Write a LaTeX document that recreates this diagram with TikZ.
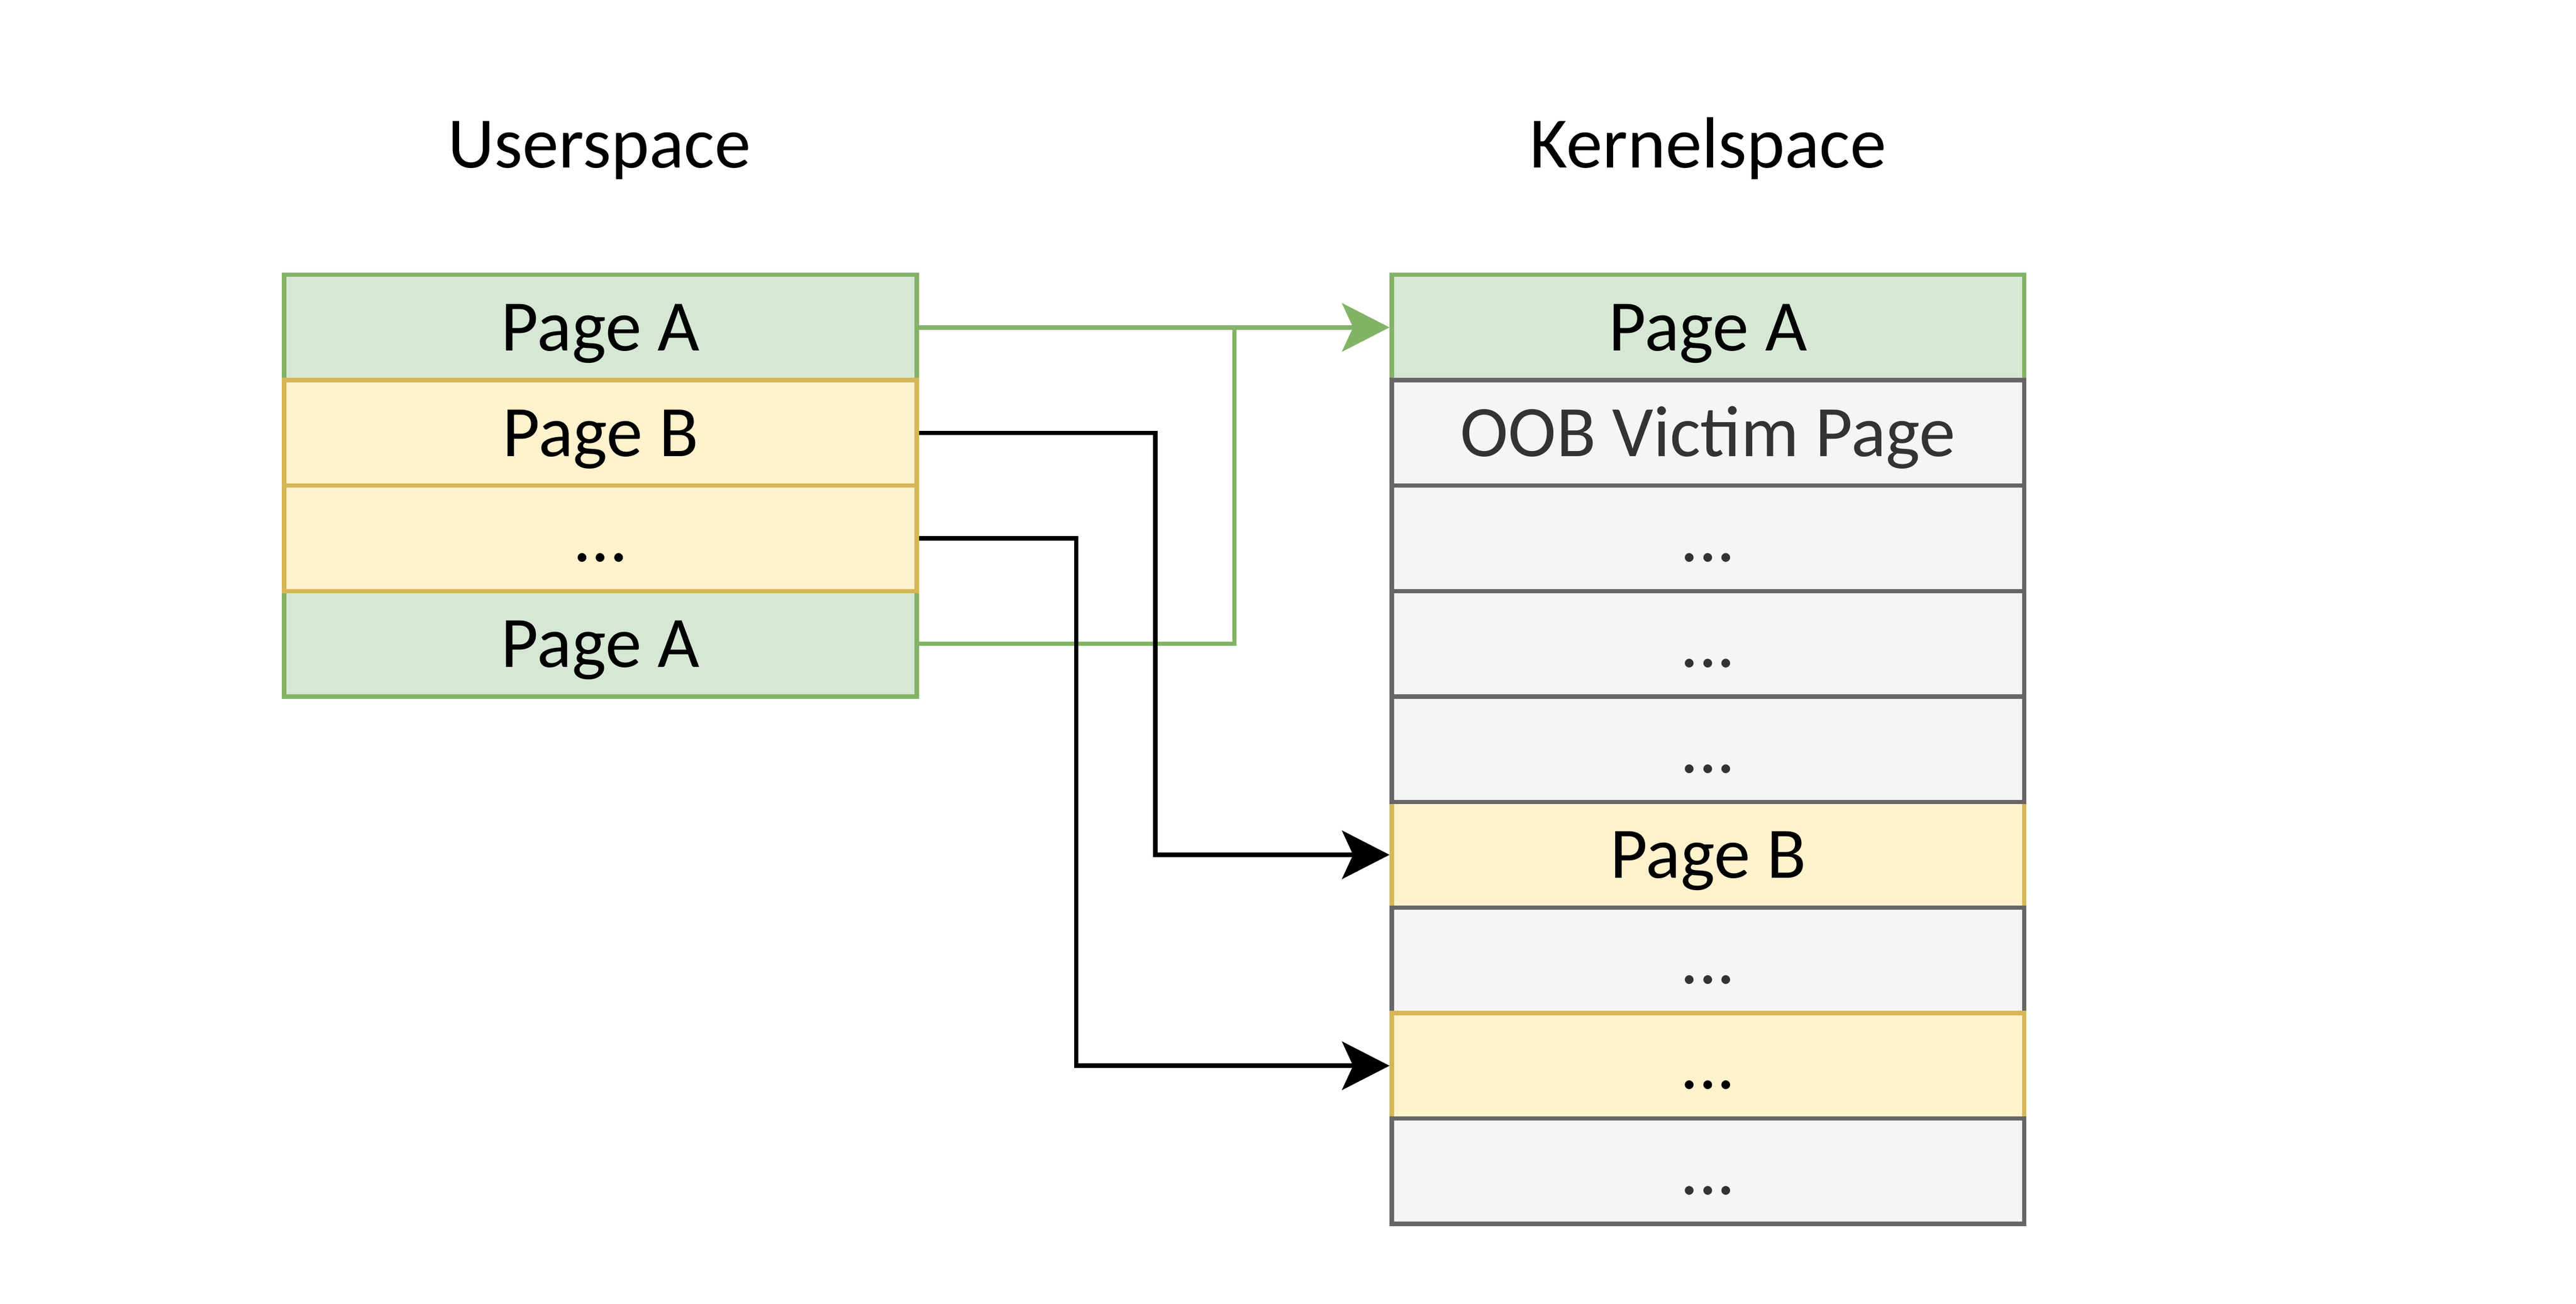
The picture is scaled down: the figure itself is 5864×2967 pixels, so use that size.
\documentclass[tikz,border=0pt]{standalone}
\usepackage{fontspec}
\setmainfont{Carlito}
\usetikzlibrary{arrows.meta}
\definecolor{gfill}{HTML}{D5E8D4}
\definecolor{gline}{HTML}{82B366}
\definecolor{yfill}{HTML}{FFF2CC}
\definecolor{yline}{HTML}{D6B656}
\definecolor{pfill}{HTML}{F5F5F5}
\definecolor{pline}{HTML}{666666}
\definecolor{ptext}{HTML}{333333}
\begin{document}
\begin{tikzpicture}[x=0.1pt,y=-0.1pt,
 baserow/.style={minimum width=144pt, minimum height=24pt, inner sep=0pt, text height=10.6pt, text depth=0pt, line width=1pt, font=\fontsize{16.5}{20}\selectfont},
 greenrow/.style={baserow, fill=gfill, draw=gline},
 yellowrow/.style={baserow, fill=yfill, draw=yline},
 grayrow/.style={baserow, fill=pfill, draw=pline, text=ptext},
 titletext/.style={anchor=base, inner sep=0pt, font=\fontsize{16.5}{20}\selectfont},
 conn/.style={line width=1pt, -{Stealth[length=10.8pt,width=11pt,inset=2.5pt]}},
 link/.style={line width=1pt},
]
\useasboundingbox (0,0) rectangle (5864,2967);

% titles
\node[titletext] (tu) at (1364,382) {Userspace};
\node[titletext] (tk) at (3888,382) {Kernelspace};

% userspace column
\node[greenrow] (l1) at (1367,745) {Page A};
\node[greenrow] (l4) at (1367,1465) {Page A};
\node[yellowrow] (l2) at (1367,985) {Page B};
\node[yellowrow] (l3) at (1367,1225) {...};

% kernelspace column
\node[greenrow] (r1) at (3888,745) {Page A};
\node[grayrow] (r2) at (3888,985) {OOB Victim Page};
\node[grayrow] (r3) at (3888,1225) {...};
\node[grayrow] (r4) at (3888,1465) {...};
\node[yellowrow] (r6) at (3888,1945) {Page B};
\node[grayrow] (r5) at (3888,1705) {...};
\node[grayrow] (r7) at (3888,2185) {...};
\node[yellowrow] (r8) at (3888,2425) {...};
\node[grayrow] (r9) at (3888,2665) {...};

% bend points
\coordinate (gj) at (2810,745);
\coordinate (bx1) at (2630,985);
\coordinate (bx2) at (2450,1225);

% connectors
\draw[link, gline] (l4.east) -| (gj);
\draw[conn, gline] (l1.east) -- (r1.west);
\draw[conn, black] (l2.east) -- (bx1) |- (r6.west);
\draw[conn, black] (l3.east) -- (bx2) |- (r8.west);
\end{tikzpicture}
\end{document}
